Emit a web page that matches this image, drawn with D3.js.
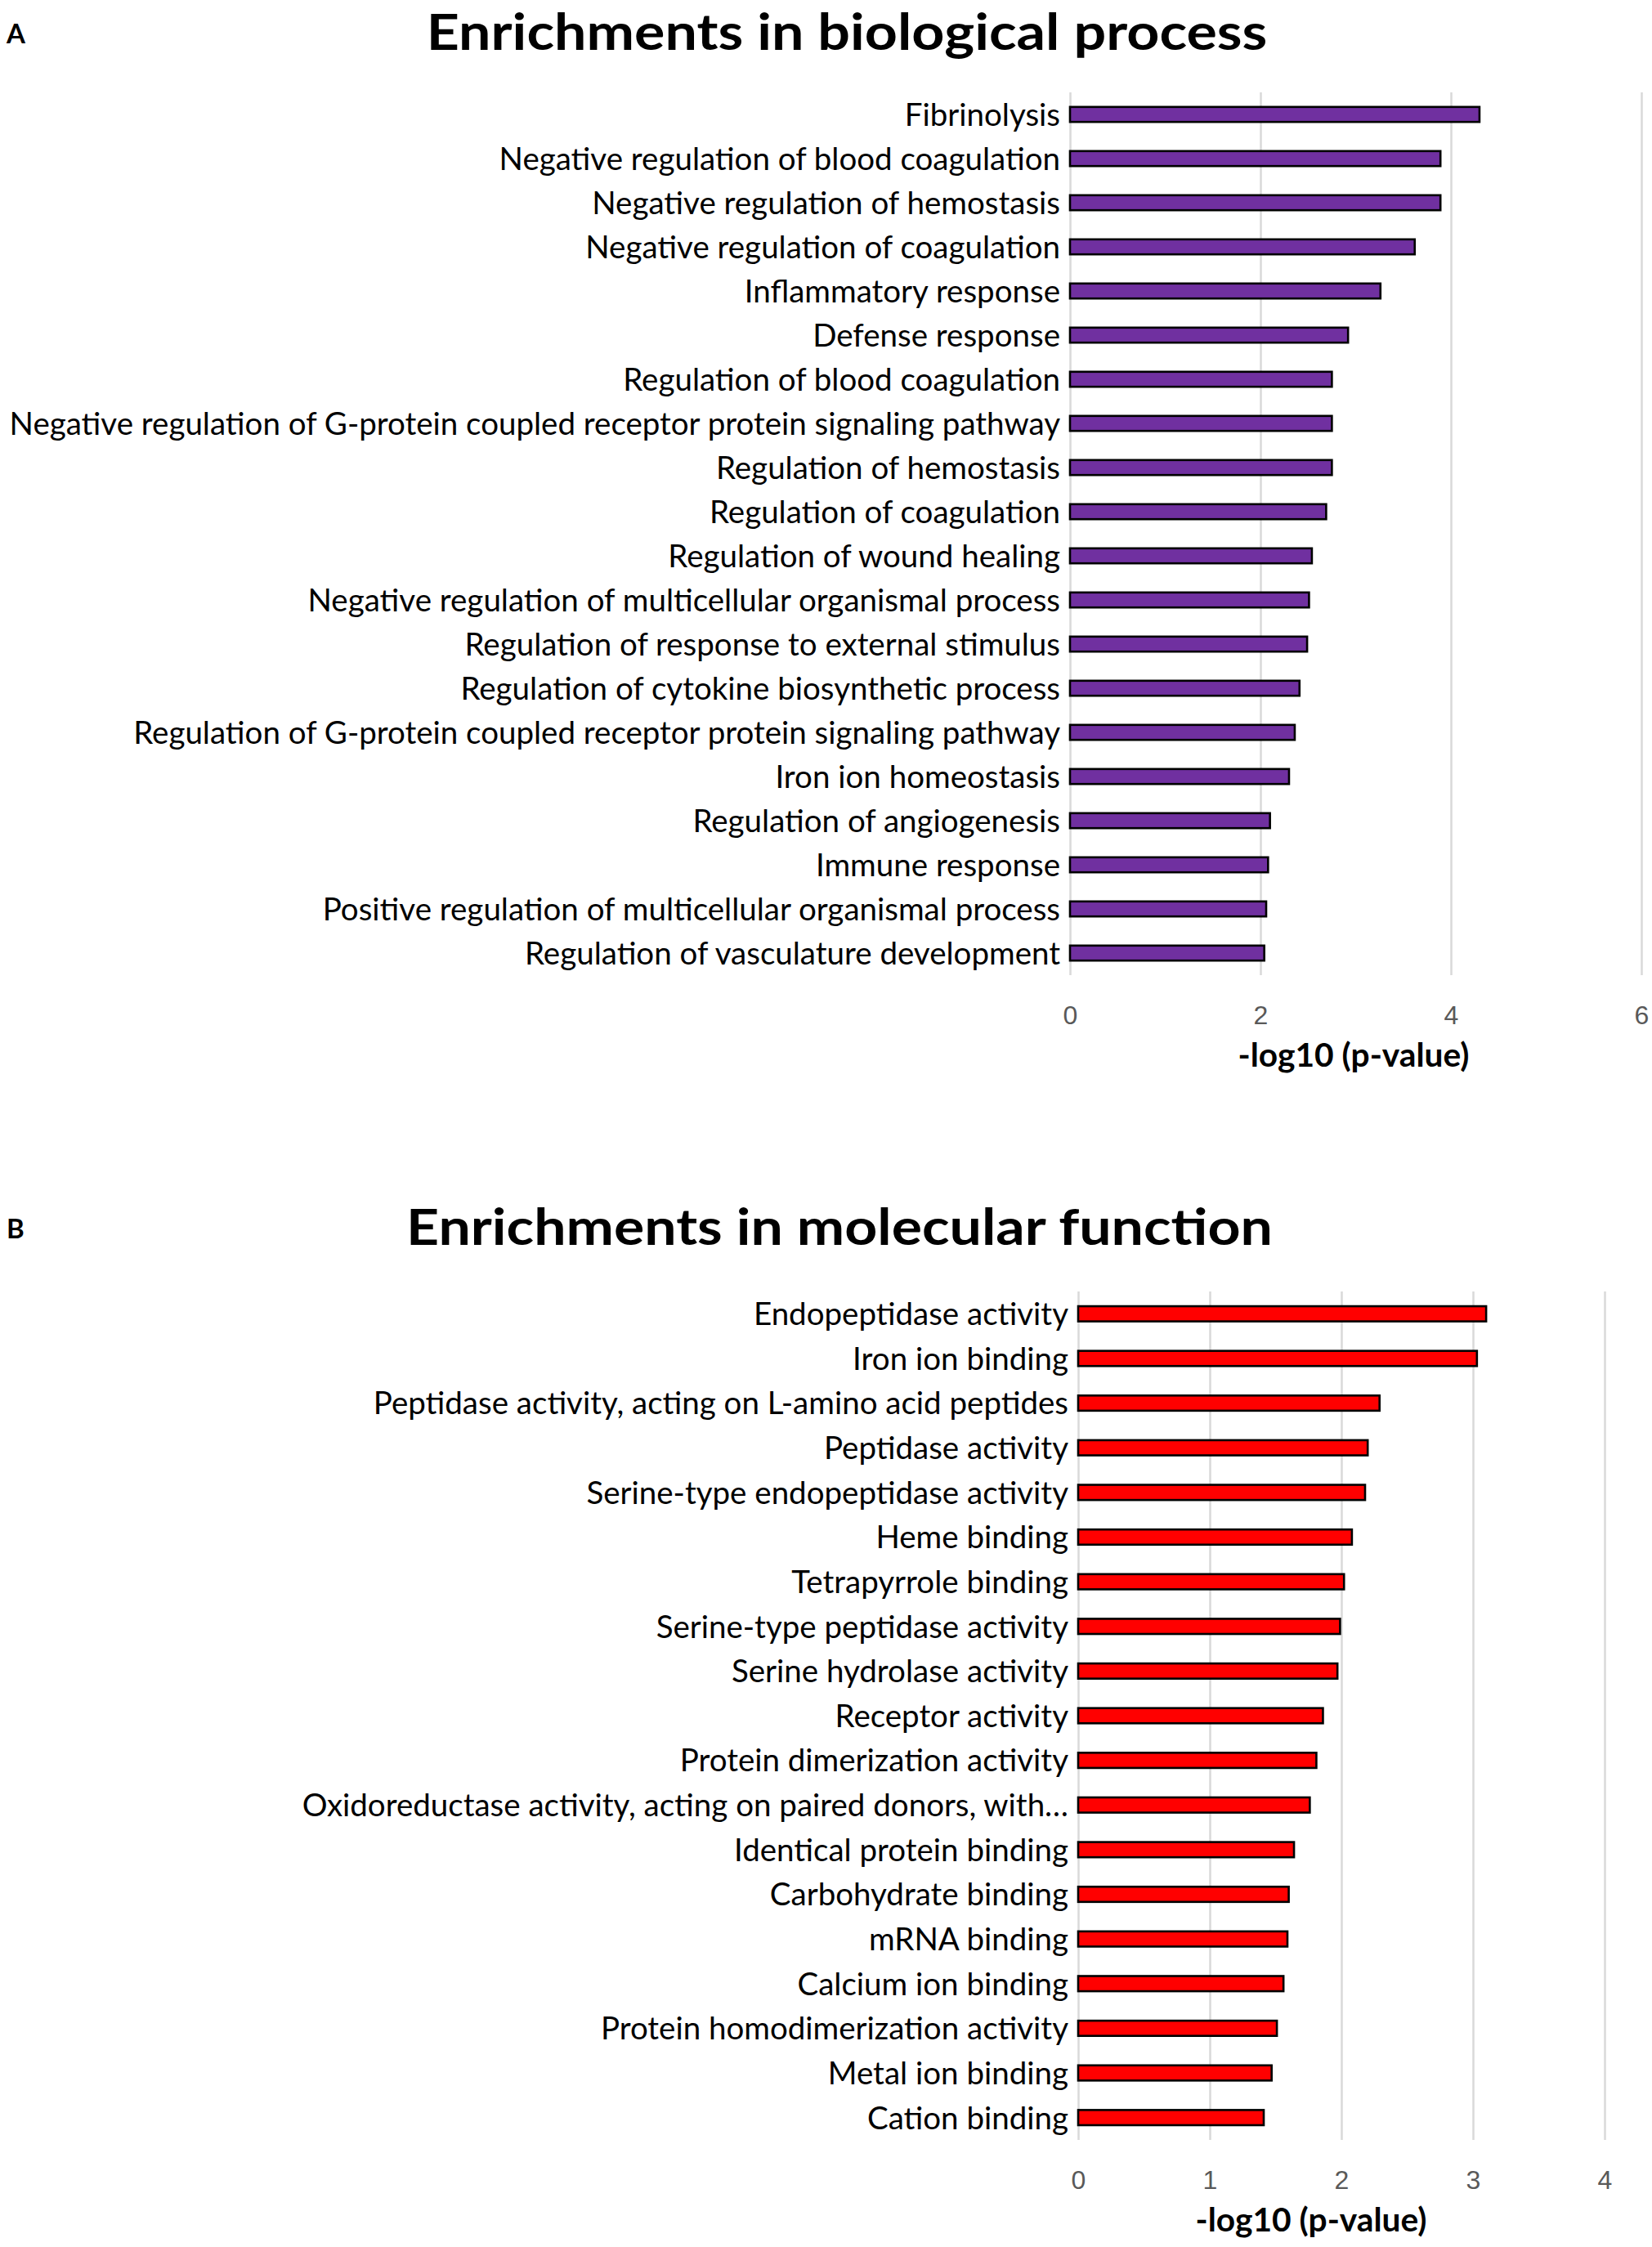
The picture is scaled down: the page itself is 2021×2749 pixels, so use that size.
<!DOCTYPE html>
<html>
<head>
  <meta charset="utf-8">
  <title>GO enrichments</title>
  <script src="https://cdn.jsdelivr.net/npm/d3@7"></script>
  <style>
    body { margin: 0; background: #fff; }
    svg { display: block; }
    .grid line { stroke: #d9d9d9; stroke-width: 2.5; }
    .grid .domain { display: none; }
    .grid text { fill: #595959; font-family: "Liberation Sans", Arial, sans-serif; font-size: 32px; }
    .term { font-family: Lato, "Open Sans", sans-serif; fill: #000; }
    .title, .panel, .xlabel { font-family: Lato, "Open Sans", sans-serif; font-weight: bold; fill: #000; }
  </style>
</head>
<body>
<div id="chart"></div>
<script>
  // biological process
  const bpTerms = [
    'Fibrinolysis',
    'Negative regulation of blood coagulation',
    'Negative regulation of hemostasis',
    'Negative regulation of coagulation',
    'Inflammatory response',
    'Defense response',
    'Regulation of blood coagulation',
    'Negative regulation of G-protein coupled receptor protein signaling pathway',
    'Regulation of hemostasis',
    'Regulation of coagulation',
    'Regulation of wound healing',
    'Negative regulation of multicellular organismal process',
    'Regulation of response to external stimulus',
    'Regulation of cytokine biosynthetic process',
    'Regulation of G-protein coupled receptor protein signaling pathway',
    'Iron ion homeostasis',
    'Regulation of angiogenesis',
    'Immune response',
    'Positive regulation of multicellular organismal process',
    'Regulation of vasculature development'
  ];
  const bpValues = [4.30, 3.89, 3.89, 3.62, 3.26, 2.92, 2.75, 2.75, 2.75, 2.69,
                    2.54, 2.51, 2.49, 2.41, 2.36, 2.30, 2.10, 2.08, 2.06, 2.04];
  const bpTicks = [0, 2, 4, 6];

  // molecular function
  const mfTerms = [
    'Endopeptidase activity',
    'Iron ion binding',
    'Peptidase activity, acting on L-amino acid peptides',
    'Peptidase activity',
    'Serine-type endopeptidase activity',
    'Heme binding',
    'Tetrapyrrole binding',
    'Serine-type peptidase activity',
    'Serine hydrolase activity',
    'Receptor activity',
    'Protein dimerization activity',
    'Oxidoreductase activity, acting on paired donors, with\u2026',
    'Identical protein binding',
    'Carbohydrate binding',
    'mRNA binding',
    'Calcium ion binding',
    'Protein homodimerization activity',
    'Metal ion binding',
    'Cation binding'
  ];
  const mfValues = [3.10, 3.03, 2.29, 2.20, 2.18, 2.08, 2.02, 1.99, 1.97, 1.86,
                    1.81, 1.76, 1.64, 1.60, 1.59, 1.56, 1.51, 1.47, 1.41];
  const mfTicks = [0, 1, 2, 3, 4];

  const width = 2021, height = 2749;
  const svg = d3.select('#chart').append('svg')
    .attr('width', width)
    .attr('height', height);

  // shrink or grow a text so it spans the given width
  const fitWidth = (sel, target) => {
    const w = sel.node().getComputedTextLength();
    const fs = parseFloat(sel.attr('font-size'));
    sel.attr('font-size', fs * target / w);
  };

  const panel = (opt) => {
    const g = svg.append('g');
    const x = d3.scaleLinear()
      .domain([0, d3.max(opt.ticks)])
      .range([opt.x0, opt.x1]);
    const y = d3.scaleBand()
      .domain(opt.terms)
      .range([opt.top, opt.bottom])
      .paddingInner(0.66)
      .paddingOuter(0.33);

    g.append('text')
      .attr('class', 'panel')
      .attr('x', 8).attr('y', opt.letterY)
      .attr('font-size', 33)
      .text(opt.letter);

    // title: keep the height, stretch sideways to the reference width
    const title = g.append('text')
      .attr('class', 'title')
      .attr('text-anchor', 'middle')
      .attr('font-size', 61)
      .text(opt.title);
    const sx = opt.titleW / title.node().getComputedTextLength();
    title.attr('transform', `translate(${opt.titleX},${opt.titleY}) scale(${sx},1)`);

    // grid + tick labels
    const axis = g.append('g')
      .attr('class', 'grid')
      .attr('transform', `translate(0,${opt.bottom})`)
      .call(d3.axisBottom(x).tickValues(opt.ticks).tickFormat(d3.format('d'))
        .tickSize(-(opt.bottom - opt.top)).tickSizeOuter(0));
    axis.selectAll('text').attr('y', 60).attr('dy', 0);

    g.append('g').selectAll('rect')
      .data(opt.values)
      .join('rect')
        .attr('x', x(0))
        .attr('y', (d, i) => y(opt.terms[i]))
        .attr('width', d => x(d) - x(0))
        .attr('height', y.bandwidth())
        .attr('fill', opt.color)
        .attr('stroke', '#000')
        .attr('stroke-width', 2.6);

    const labels = g.append('g').selectAll('text')
      .data(opt.terms)
      .join('text')
        .attr('class', 'term')
        .attr('x', x(0) - 12)
        .attr('y', d => y(d) + y.bandwidth() / 2)
        .attr('dy', '0.36em')
        .attr('text-anchor', 'end')
        .attr('font-size', opt.labelSize)
        .text(d => d);

    const xl = g.append('text')
      .attr('class', 'xlabel')
      .attr('x', opt.xlabelX)
      .attr('y', opt.bottom + 112)
      .attr('text-anchor', 'middle')
      .attr('font-size', 36)
      .text('-log10 (p-value)');
    fitWidth(xl, 283);
    return labels;
  };

  const labelsA = panel({
    letter: 'A', letterY: 53,
    title: 'Enrichments in biological process', titleX: 1036, titleY: 61, titleW: 1029,
    terms: bpTerms, values: bpValues, ticks: bpTicks,
    x0: 1309, x1: 2008, top: 113, bottom: 1193,
    color: '#7030a0', labelSize: 36, xlabelX: 1656
  });

  // one label size for both panels, set by the longest biological process term
  const longest = labelsA.filter((d, i) => i === 7).node().getComputedTextLength();
  const labelSize = 36 * 1286 / longest;
  labelsA.attr('font-size', labelSize);

  panel({
    letter: 'B', letterY: 1515,
    title: 'Enrichments in molecular function', titleX: 1027, titleY: 1523, titleW: 1060,
    terms: mfTerms, values: mfValues, ticks: mfTicks,
    x0: 1319, x1: 1963, top: 1580, bottom: 2618,
    color: '#ff0000', labelSize: labelSize, xlabelX: 1604
  });
</script>
</body>
</html>
